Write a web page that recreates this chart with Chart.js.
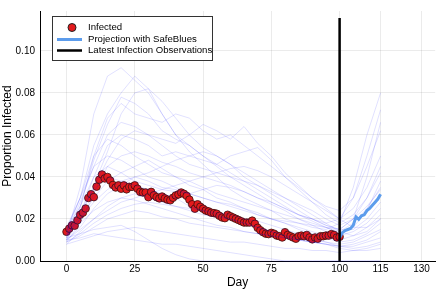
<!DOCTYPE html>
<html>
<head>
<meta charset="utf-8">
<script src="https://cdn.jsdelivr.net/npm/chart.js@4"></script>
<style>
  html, body { margin: 0; padding: 0; background: #fff; }
  #wrap { width: 440px; height: 290px; position: relative; }
</style>
</head>
<body>
<div id="wrap"><canvas id="c" width="440" height="290"></canvas></div>
<script>
// Observed infections (days 0..100), SafeBlues projection and simulated trajectories.

const infected = [
  0.0139, 0.0154, 0.0170, 0.0168, 0.0194, 0.0220, 0.0230, 0.0250, 0.0300, 0.0318,
  0.0304, 0.0354, 0.0387, 0.0412, 0.0393, 0.0400, 0.0383, 0.0362, 0.0350, 0.0360,
  0.0344, 0.0360, 0.0341, 0.0353, 0.0353, 0.0360, 0.0344, 0.0329, 0.0326, 0.0326,
  0.0304, 0.0329, 0.0313, 0.0304, 0.0298, 0.0307, 0.0298, 0.0292, 0.0289, 0.0301,
  0.0312, 0.0317, 0.0326, 0.0320, 0.0310, 0.0292, 0.0270, 0.0249, 0.0270, 0.0258,
  0.0249, 0.0240, 0.0236, 0.0230, 0.0228, 0.0225, 0.0215, 0.0207, 0.0204, 0.0220,
  0.0213, 0.0207, 0.0201, 0.0195, 0.0189, 0.0183, 0.0183, 0.0183, 0.0192, 0.0177,
  0.0158, 0.0146, 0.0137, 0.0130, 0.0128, 0.0134, 0.0130, 0.0121, 0.0118, 0.0112,
  0.0137, 0.0124, 0.0118, 0.0112, 0.0106, 0.0118, 0.0121, 0.0118, 0.0124, 0.0112,
  0.0103, 0.0112, 0.0106, 0.0118, 0.0118, 0.0121, 0.0121, 0.0128, 0.0124, 0.0112,
  0.0115,
];

const projDays = [100, 101, 102, 103, 104, 105, 106, 107, 108, 109, 110, 111, 112, 113, 114, 115];
const projection = [0.0110, 0.0135, 0.0145, 0.0150, 0.0155, 0.0170, 0.0210, 0.0198,
                    0.0215, 0.0220, 0.0240, 0.0250, 0.0265, 0.0280, 0.0295, 0.0318];

const latestDay = 100;
const latestTop = 0.1157;

const trajDays = [0, 5, 10, 15, 20, 25, 30, 35, 40, 45, 50, 55, 60, 65, 70, 75, 80, 85, 90, 95, 100, 105, 110, 115];
const trajectories = [
  [0.012, 0.035, 0.070, 0.088, 0.092, 0.086, 0.080, 0.070, 0.060, 0.052, 0.046, 0.040, 0.034, 0.030, 0.027, 0.024, 0.020, 0.018, 0.016, 0.015, 0.018, 0.035, 0.060, 0.080],
  [0.014, 0.030, 0.055, 0.070, 0.080, 0.088, 0.082, 0.070, 0.060, 0.055, 0.050, 0.045, 0.040, 0.036, 0.032, 0.028, 0.025, 0.022, 0.020, 0.018, 0.020, 0.030, 0.050, 0.072],
  [0.010, 0.025, 0.050, 0.068, 0.075, 0.070, 0.068, 0.066, 0.070, 0.068, 0.062, 0.058, 0.060, 0.055, 0.050, 0.045, 0.040, 0.035, 0.030, 0.026, 0.024, 0.030, 0.045, 0.062],
  [0.013, 0.028, 0.045, 0.060, 0.066, 0.064, 0.060, 0.058, 0.056, 0.060, 0.065, 0.062, 0.058, 0.064, 0.056, 0.050, 0.042, 0.036, 0.030, 0.025, 0.020, 0.025, 0.035, 0.050],
  [0.011, 0.022, 0.040, 0.055, 0.060, 0.058, 0.055, 0.050, 0.052, 0.050, 0.048, 0.046, 0.050, 0.052, 0.054, 0.048, 0.040, 0.034, 0.028, 0.022, 0.018, 0.022, 0.030, 0.045],
  [0.015, 0.030, 0.050, 0.058, 0.055, 0.050, 0.046, 0.042, 0.040, 0.038, 0.035, 0.032, 0.030, 0.028, 0.026, 0.024, 0.022, 0.020, 0.018, 0.016, 0.014, 0.018, 0.025, 0.035],
  [0.009, 0.018, 0.032, 0.045, 0.050, 0.052, 0.050, 0.047, 0.045, 0.042, 0.040, 0.038, 0.036, 0.033, 0.030, 0.028, 0.025, 0.022, 0.020, 0.017, 0.015, 0.015, 0.020, 0.028],
  [0.012, 0.020, 0.030, 0.038, 0.042, 0.045, 0.048, 0.044, 0.040, 0.036, 0.034, 0.030, 0.028, 0.025, 0.022, 0.020, 0.018, 0.016, 0.014, 0.012, 0.010, 0.012, 0.016, 0.022],
  [0.010, 0.016, 0.025, 0.032, 0.036, 0.040, 0.038, 0.035, 0.034, 0.032, 0.030, 0.028, 0.027, 0.025, 0.023, 0.020, 0.018, 0.015, 0.013, 0.011, 0.009, 0.010, 0.013, 0.018],
  [0.008, 0.014, 0.020, 0.026, 0.030, 0.032, 0.030, 0.028, 0.026, 0.024, 0.022, 0.021, 0.020, 0.018, 0.016, 0.014, 0.012, 0.010, 0.009, 0.008, 0.007, 0.008, 0.010, 0.014],
  [0.014, 0.024, 0.034, 0.040, 0.038, 0.036, 0.034, 0.032, 0.030, 0.026, 0.024, 0.022, 0.020, 0.018, 0.016, 0.014, 0.012, 0.011, 0.010, 0.009, 0.008, 0.009, 0.012, 0.015],
  [0.009, 0.012, 0.016, 0.020, 0.022, 0.024, 0.023, 0.021, 0.020, 0.018, 0.017, 0.016, 0.015, 0.014, 0.013, 0.012, 0.011, 0.010, 0.009, 0.008, 0.007, 0.007, 0.009, 0.011],
  [0.008, 0.010, 0.012, 0.014, 0.015, 0.016, 0.015, 0.014, 0.013, 0.012, 0.011, 0.010, 0.009, 0.009, 0.008, 0.007, 0.006, 0.006, 0.005, 0.005, 0.004, 0.005, 0.006, 0.008],
  [0.010, 0.011, 0.013, 0.012, 0.011, 0.010, 0.009, 0.008, 0.008, 0.007, 0.006, 0.005, 0.004, 0.003, 0.002, 0.001, 0.000, 0.000, 0.000, 0.000, 0.000, 0.000, 0.000, 0.000],
  [0.016, 0.030, 0.045, 0.050, 0.048, 0.044, 0.040, 0.038, 0.035, 0.032, 0.030, 0.028, 0.026, 0.024, 0.022, 0.020, 0.019, 0.018, 0.017, 0.016, 0.015, 0.020, 0.030, 0.042],
  [0.012, 0.022, 0.035, 0.048, 0.058, 0.062, 0.060, 0.055, 0.050, 0.046, 0.044, 0.042, 0.040, 0.038, 0.036, 0.033, 0.030, 0.027, 0.024, 0.020, 0.017, 0.020, 0.026, 0.034],
  [0.011, 0.026, 0.048, 0.065, 0.078, 0.075, 0.070, 0.062, 0.058, 0.055, 0.050, 0.046, 0.042, 0.038, 0.034, 0.030, 0.026, 0.022, 0.019, 0.016, 0.013, 0.016, 0.024, 0.038],
  [0.013, 0.020, 0.028, 0.034, 0.038, 0.040, 0.042, 0.045, 0.048, 0.050, 0.052, 0.050, 0.046, 0.042, 0.038, 0.034, 0.030, 0.026, 0.022, 0.018, 0.014, 0.012, 0.014, 0.020],
  [0.010, 0.015, 0.020, 0.024, 0.028, 0.030, 0.032, 0.034, 0.036, 0.038, 0.040, 0.042, 0.044, 0.045, 0.043, 0.040, 0.036, 0.032, 0.028, 0.024, 0.020, 0.016, 0.016, 0.020],
  [0.009, 0.013, 0.018, 0.022, 0.025, 0.027, 0.028, 0.027, 0.026, 0.025, 0.024, 0.023, 0.022, 0.020, 0.019, 0.017, 0.015, 0.013, 0.011, 0.009, 0.007, 0.006, 0.007, 0.009],
  [0.015, 0.026, 0.040, 0.045, 0.042, 0.038, 0.036, 0.034, 0.033, 0.032, 0.034, 0.036, 0.035, 0.033, 0.030, 0.027, 0.024, 0.020, 0.017, 0.014, 0.012, 0.014, 0.018, 0.025],
  [0.012, 0.018, 0.024, 0.028, 0.030, 0.029, 0.027, 0.025, 0.023, 0.021, 0.019, 0.017, 0.016, 0.014, 0.013, 0.012, 0.011, 0.010, 0.009, 0.008, 0.006, 0.005, 0.005, 0.006],
  [0.011, 0.013, 0.015, 0.016, 0.017, 0.014, 0.010, 0.006, 0.003, 0.001, 0.000, 0.000, 0.000, 0.000, 0.000, 0.000, 0.000, 0.000, 0.000, 0.000, 0.000, 0.000, 0.000, 0.000],
  [0.010, 0.020, 0.036, 0.052, 0.070, 0.080, 0.082, 0.076, 0.068, 0.060, 0.054, 0.050, 0.046, 0.040, 0.036, 0.032, 0.028, 0.024, 0.020, 0.017, 0.015, 0.020, 0.040, 0.066],
];

const xTicks = [0, 25, 50, 75, 100, 115, 130];
const yTicks = [0, 0.02, 0.04, 0.06, 0.08, 0.10];
const legendLabels = ['Infected', 'Projection with SafeBlues', 'Latest Infection Observations'];

const RED = 'rgb(227,26,28)';
const PROJ = 'rgb(92,156,236)';
const TRAJ = 'rgba(0,0,255,0.12)';
const FONT = '"Liberation Sans", Arial, Helvetica, sans-serif';

// Legend sits inside the plot area, so draw it by hand.
const innerLegend = {
  id: 'inner-legend',
  afterDraw(chart) {
    const ctx = chart.ctx;
    const x = 52, y = 16, w = 161, h = 45;
    ctx.save();
    ctx.fillStyle = '#fff';
    ctx.fillRect(x, y, w, h);
    ctx.strokeStyle = '#333';
    ctx.lineWidth = 1;
    ctx.strokeRect(x + 0.5, y + 0.5, w - 1, h - 1);
    ctx.font = '9.6px ' + FONT;
    ctx.textBaseline = 'middle';
    ctx.fillStyle = '#000';
    const rows = [27.5, 39.5, 50.5];
    // marker
    ctx.beginPath();
    ctx.arc(72, rows[0], 4, 0, Math.PI * 2);
    ctx.fillStyle = RED;
    ctx.fill();
    ctx.strokeStyle = '#222';
    ctx.stroke();
    ctx.lineWidth = 3;
    ctx.strokeStyle = PROJ;
    ctx.beginPath(); ctx.moveTo(57, rows[1]); ctx.lineTo(82, rows[1]); ctx.stroke();
    ctx.lineWidth = 2.5;
    ctx.strokeStyle = '#000';
    ctx.beginPath(); ctx.moveTo(57, rows[2]); ctx.lineTo(82, rows[2]); ctx.stroke();
    ctx.fillStyle = '#000';
    legendLabels.forEach((t, i) => ctx.fillText(t, 88, rows[i]));
    ctx.restore();
  },
};

const datasets = [
  {
    label: legendLabels[2],
    data: [{ x: latestDay, y: 0 }, { x: latestDay, y: latestTop }],
    borderColor: '#000', borderWidth: 2.5, pointRadius: 0, order: 0, clip: 4,
  },
  {
    label: legendLabels[1],
    data: projDays.map((d, i) => ({ x: d, y: projection[i] })),
    borderColor: PROJ, borderWidth: 3, pointRadius: 0, order: 1,
  },
];
trajectories.forEach((t, k) => {
  datasets.push({
    label: 'sim' + k,
    data: trajDays.map((d, i) => ({ x: d, y: t[i] })),
    borderColor: TRAJ, borderWidth: 1, pointRadius: 0, order: 2, clip: 3,
  });
});
datasets.push({
  label: legendLabels[0],
  data: infected.map((v, i) => ({ x: i, y: v })),
  showLine: false, pointRadius: 3.8, pointBackgroundColor: RED,
  pointBorderColor: '#3a1010', pointBorderWidth: 0.8, order: 3,
});

new Chart(document.getElementById('c'), {
  type: 'line',
  data: { datasets },
  options: {
    responsive: false, animation: false, parsing: true,
    layout: { padding: { top: 2, right: 2, left: 0, bottom: 0 } },
    scales: {
      x: {
        type: 'linear', min: -9.7, max: 135,
        afterBuildTicks: s => { s.ticks = xTicks.map(v => ({ value: v })); },
        afterFit: s => { s.height = 29; },
        ticks: { color: '#000', font: { family: FONT, size: 10 }, padding: 2, maxRotation: 0 },
        grid: { color: 'rgba(0,0,0,0.08)', drawTicks: false },
        border: { color: '#000', width: 1 },
        title: { display: true, text: 'Day', color: '#000', font: { family: FONT, size: 12 }, padding: { top: 1, bottom: 0 } },
      },
      y: {
        type: 'linear', min: 0, max: 0.119,
        afterBuildTicks: s => { s.ticks = yTicks.map(v => ({ value: v })); },
        afterFit: s => { s.width = 40; },
        ticks: { color: '#000', font: { family: FONT, size: 10 }, padding: 5, callback: v => v.toFixed(2) },
        grid: { color: 'rgba(0,0,0,0.08)', drawTicks: false },
        border: { color: '#000', width: 1 },
        title: { display: true, text: 'Proportion Infected', color: '#000', font: { family: FONT, size: 12 }, padding: { top: 0, bottom: 0 } },
      },
    },
    plugins: { legend: { display: false }, tooltip: { enabled: false } },
  },
  plugins: [innerLegend],
});
</script>
</body>
</html>
